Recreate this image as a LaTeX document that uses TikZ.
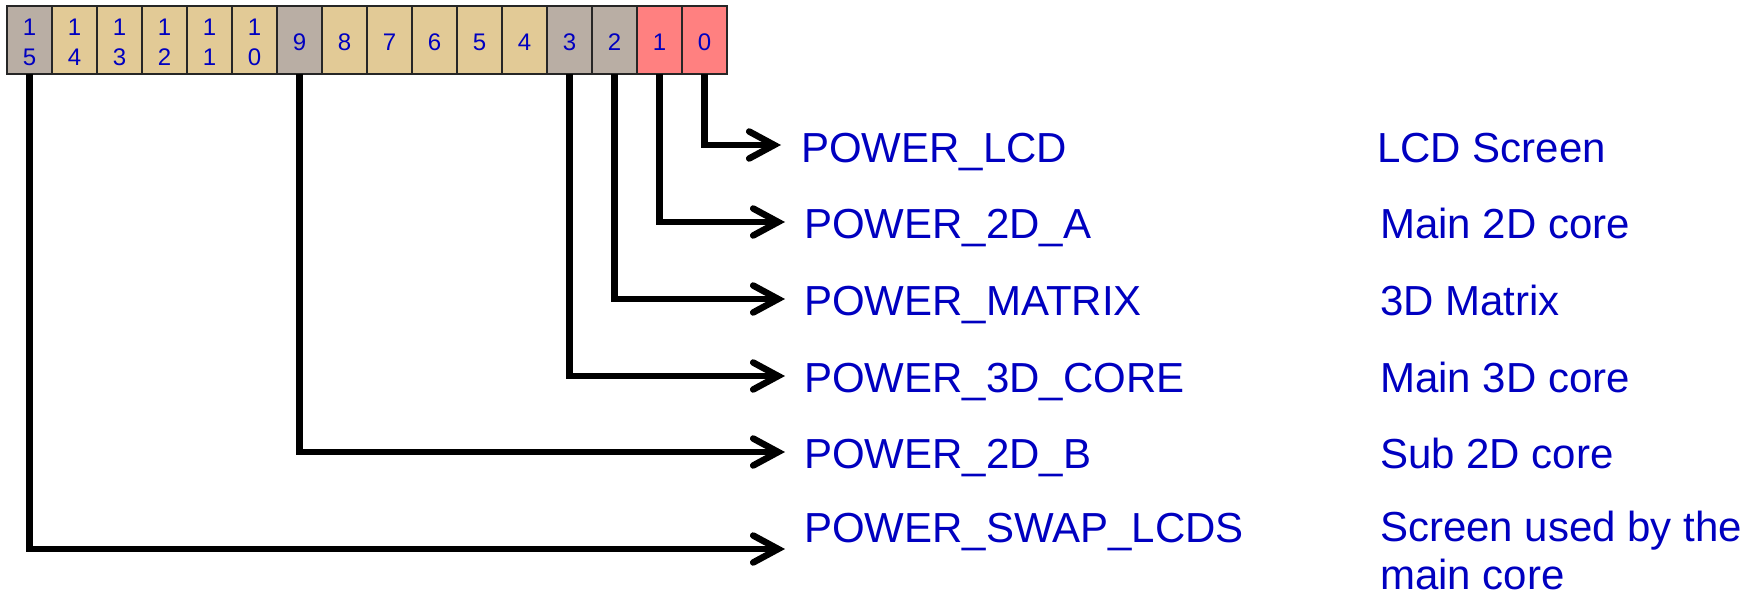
\documentclass[tikz,border=0pt]{standalone}
\usepackage{fontspec}
\setmainfont{Liberation Sans}
\usetikzlibrary{arrows.meta}
\definecolor{txtblue}{RGB}{0,0,192}
\definecolor{cgrey}{RGB}{185,174,164}
\definecolor{ctan}{RGB}{226,202,150}
\definecolor{cpink}{RGB}{255,128,128}
\begin{document}
\begin{tikzpicture}[x=1pt,y=-1pt,
  cell/.style={draw=black!85, line width=1.5pt, minimum width=45pt, minimum height=68pt,
    inner sep=0pt, outer sep=0pt, anchor=north west,
    font=\fontsize{24}{29.5}\selectfont, text=txtblue, align=center,
    text height=20pt, text depth=0pt},
  twodig/.style={text height=50.5pt, text depth=0pt},
  greycell/.style={cell, fill=cgrey},
  tancell/.style={cell, fill=ctan},
  pinkcell/.style={cell, fill=cpink},
  conn/.style={line width=6.5pt,
    -{Straight Barb[length=25pt,width=27pt,line cap=round,line join=miter]}},
  lbl/.style={anchor=base west, font=\fontsize{42}{48}\selectfont, text=txtblue,
    inner sep=0pt, align=left}]
\useasboundingbox (0,0) rectangle (1760,595);

% register cells
\node[greycell, twodig] (b15) at (7,6)   {1\\5};
\node[tancell, twodig]  (b14) at (52,6)  {1\\4};
\node[tancell, twodig]  (b13) at (97,6)  {1\\3};
\node[tancell, twodig]  (b12) at (142,6) {1\\2};
\node[tancell, twodig]  (b11) at (187,6) {1\\1};
\node[tancell, twodig]  (b10) at (232,6) {1\\0};
\node[greycell] (b9)  at (277,6) {9};
\node[tancell]  (b8)  at (322,6) {8};
\node[tancell]  (b7)  at (367,6) {7};
\node[tancell]  (b6)  at (412,6) {6};
\node[tancell]  (b5)  at (457,6) {5};
\node[tancell]  (b4)  at (502,6) {4};
\node[greycell] (b3)  at (547,6) {3};
\node[greycell] (b2)  at (592,6) {2};
\node[pinkcell] (b1)  at (637,6) {1};
\node[pinkcell] (b0)  at (682,6) {0};

% arrow tips
\coordinate (t0)  at (781,145);
\coordinate (t1)  at (785,222);
\coordinate (t2)  at (785,299);
\coordinate (t3)  at (785,376);
\coordinate (t9)  at (785,452);
\coordinate (t15) at (785,549);

% connectors
\draw[conn] (b0.south)  |- (t0);
\draw[conn] (b1.south)  |- (t1);
\draw[conn] (b2.south)  |- (t2);
\draw[conn] (b3.south)  |- (t3);
\draw[conn] (b9.south)  |- (t9);
\draw[conn] (b15.south) |- (t15);

% signal names
\node[lbl] (l0)  at (801,162) {POWER\_LCD};
\node[lbl] (l1)  at (804,238) {POWER\_2D\_A};
\node[lbl] (l2)  at (804,315) {POWER\_MATRIX};
\node[lbl] (l3)  at (804,392) {POWER\_3D\_CORE};
\node[lbl] (l9)  at (804,468) {POWER\_2D\_B};
\node[lbl] (l15) at (804,542) {POWER\_SWAP\_LCDS};

% descriptions
\node[lbl] (d0)  at (1377,162) {LCD Screen};
\node[lbl] (d1)  at (1380,238) {Main 2D core};
\node[lbl] (d2)  at (1380,315) {3D Matrix};
\node[lbl] (d3)  at (1380,392) {Main 3D core};
\node[lbl] (d9)  at (1380,468) {Sub 2D core};
\node[lbl, anchor=north west] (d15) at (1380,511) {Screen used by the\\main core};
\end{tikzpicture}
\end{document}
